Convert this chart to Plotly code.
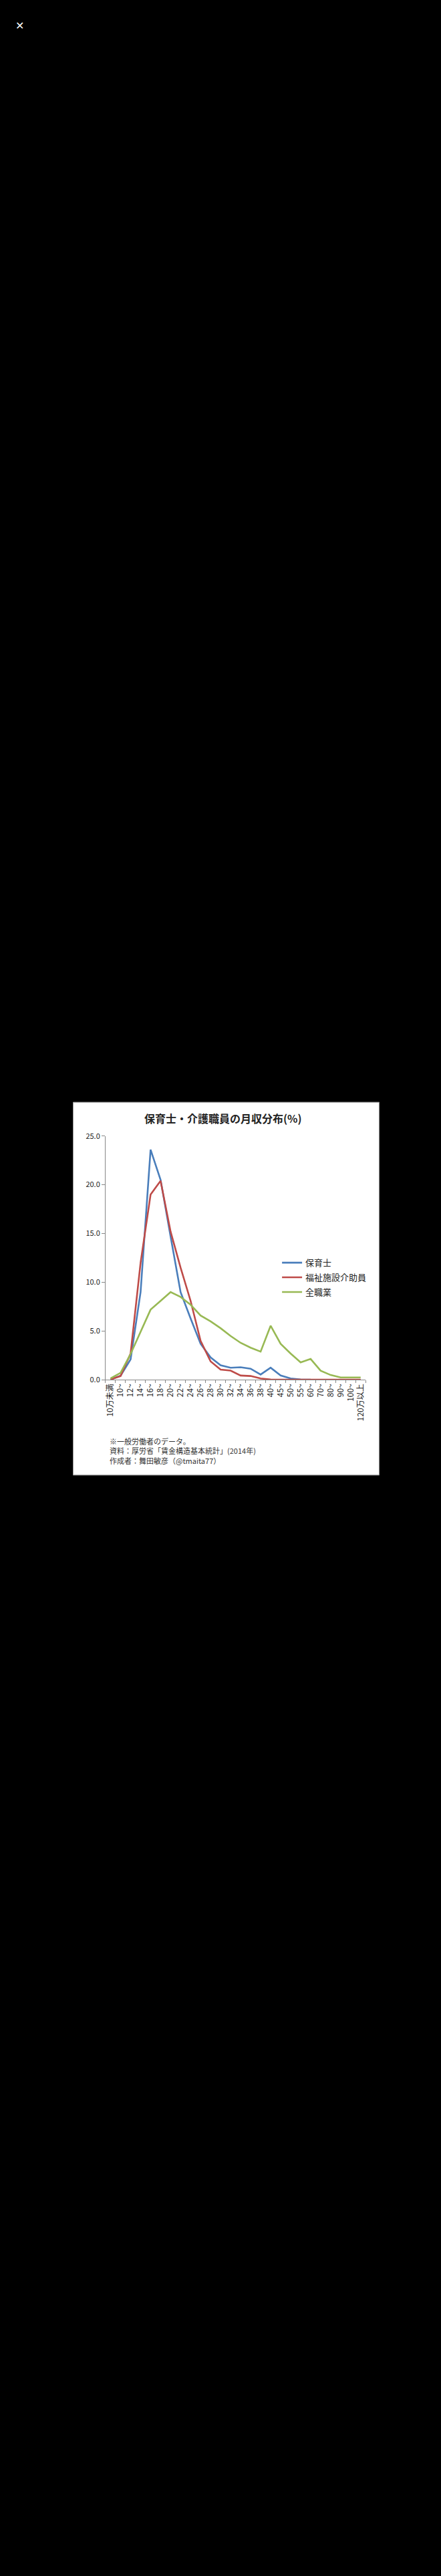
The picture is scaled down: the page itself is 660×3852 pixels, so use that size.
import plotly.graph_objects as go

W, H = 660, 3852

# salary bands (万円/month)
categories = ["10万未満", "10~", "12~", "14~", "16~", "18~", "20~", "22~", "24~",
              "26~", "28~", "30~", "32~", "34~", "36~", "38~", "40~", "45~",
              "50~", "55~", "60~", "70~", "80~", "90~", "100~", "120万以上"]

# share of workers (%)
hoikushi = [0.05, 0.43, 2.1, 9.0, 23.6, 20.5, 14.7, 9.0, 6.3, 3.7, 2.3, 1.5, 1.25,
            1.3, 1.15, 0.55, 1.25, 0.45, 0.15, 0.05, 0.02, 0.02, 0.0, 0.0, 0.0, 0.0]
kaigo = [0.05, 0.4, 2.7, 12.0, 19.0, 20.4, 15.2, 11.5, 8.1, 4.0, 1.9, 1.05, 0.95,
         0.45, 0.4, 0.15, 0.05, 0.03, 0.03, 0.02, 0.02, 0.02, 0.02, 0.02, 0.02, 0.02]
zenshokugyo = [0.15, 0.73, 2.65, 4.9, 7.2, 8.1, 9.0, 8.5, 7.7, 6.6, 6.0, 5.3, 4.5,
               3.8, 3.3, 2.9, 5.55, 3.7, 2.7, 1.8, 2.15, 0.95, 0.5, 0.25, 0.25, 0.25]

series_names = ["保育士", "福祉施設介助員", "全職業"]
series_colors = ["#4A7EBB", "#BE4B48", "#98B954"]

y_ticks = [0, 5, 10, 15, 20, 25]
y_ticktext = ["%.1f" % v for v in y_ticks]

notes = ["※一般労働者のデータ。",
         "資料：厚労省「賃金構造基本統計」(2014年)",
         "作成者：舞田敏彦（@tmaita77）"]

FONT = "Noto Sans CJK JP"


def px(x):
    return x / W


def py(y):
    return 1 - y / H


fig = go.Figure()
for name, vals, col in zip(series_names, [hoikushi, kaigo, zenshokugyo], series_colors):
    fig.add_trace(go.Scatter(x=categories, y=vals, name=name, mode="lines",
                             legendgroup=name,
                             line=dict(color=col, width=2.6)))

# white card on black page
fig.add_shape(type="rect", xref="paper", yref="paper", layer="below",
              x0=px(107), x1=px(567), y0=py(2206), y1=py(1646),
              fillcolor="white", line=dict(color="#9a9a9a", width=1))

fig.add_annotation(text="<b>保育士・介護職員の月収分布(%)</b>", xref="paper", yref="paper",
                   x=px(333), y=py(1670), showarrow=False,
                   font=dict(family=FONT, size=16, color="#222"))

for i, t in enumerate(notes):
    fig.add_annotation(text=t, xref="paper", yref="paper", x=px(160),
                       y=py(2155 + i * 14.5), xanchor="left", yanchor="middle",
                       showarrow=False, font=dict(family=FONT, size=11, color="#333"))

# close button of the image viewer
fig.add_annotation(text="✕", xref="paper", yref="paper", x=px(27), y=py(30),
                   xanchor="center", yanchor="middle",
                   showarrow=False, font=dict(family="DejaVu Sans", size=16, color="white"))

fig.update_layout(
    width=W, height=H,
    margin=dict(l=0, r=0, t=0, b=0),
    paper_bgcolor="black",
    plot_bgcolor="white",
    font=dict(family=FONT, color="#222"),
    showlegend=True,
    legend=dict(x=px(416), y=py(1872), xanchor="left", yanchor="top",
                bgcolor="rgba(0,0,0,0)", font=dict(size=13, color="#222"),
                tracegroupgap=2),
    xaxis=dict(domain=[px(155.7), px(546.7)], type="category",
               range=[-0.5, len(categories) - 0.5],
               tickson="boundaries", ticks="outside", ticklen=4, tickcolor="#888",
               showline=True, linecolor="#888", linewidth=1,
               showgrid=False, zeroline=False, tickangle=-90,
               tickfont=dict(size=12, color="#222")),
    yaxis=dict(domain=[py(2063), py(1696.7)], range=[0, 25],
               tickvals=y_ticks, ticktext=y_ticktext,
               ticks="outside", ticklen=5, tickcolor="#888",
               showline=True, linecolor="#888", linewidth=1,
               showgrid=False, zeroline=False,
               tickfont=dict(size=11, color="#222")),
)

# page body has a default margin; drop it so the figure sits flush
fig.write_html("out.html", config={"displayModeBar": False},
               post_script="document.body.style.margin='0';")
